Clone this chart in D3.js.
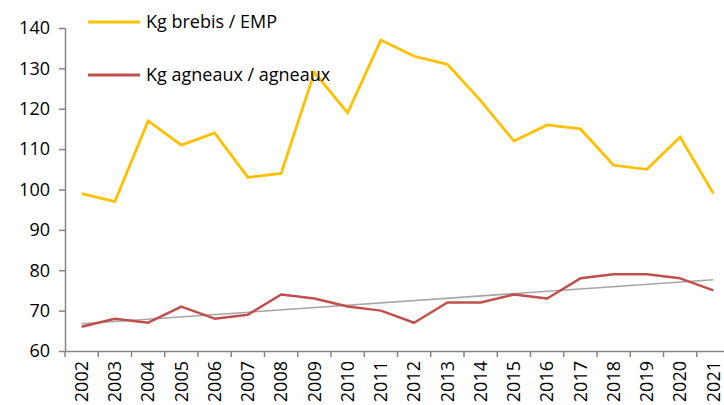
<!DOCTYPE html>
<html>
<head>
<meta charset="utf-8">
<script src="https://d3js.org/d3.v7.min.js"></script>
<style>
  body { margin: 0; background: #fff; }
  text { font-family: "Open Sans", "Liberation Sans", sans-serif; fill: #000; }
</style>
</head>
<body>
<svg id="chart" width="724" height="405"></svg>
<script>
var years = ["2002","2003","2004","2005","2006","2007","2008","2009","2010","2011",
             "2012","2013","2014","2015","2016","2017","2018","2019","2020","2021"];
var brebis = [99, 97, 117, 111, 114, 103, 104, 129, 119, 137,
              133, 131, 122, 112, 116, 115, 106, 105, 113, 99];
var agneaux = [66, 68, 67, 71, 68, 69, 74, 73, 71, 70,
               67, 72, 72, 74, 73, 78, 79, 79, 78, 75];
var yTicks = [60, 70, 80, 90, 100, 110, 120, 130, 140];
var seriesNames = ["Kg brebis / EMP", "Kg agneaux / agneaux"];

var svg = d3.select("#chart");
var plotL = 65, plotR = 730, plotT = 28, plotB = 351;
var axisColor = "#868686";

var x = d3.scaleBand().domain(years).range([plotL, plotR]);
var y = d3.scaleLinear().domain([60, 140]).range([plotB, plotT]);
function cx(d) { return x(d) + x.bandwidth() / 2; }

// linear trend on agneaux
var n = agneaux.length, mx = (n - 1) / 2, my = d3.mean(agneaux);
var sxy = 0, sxx = 0;
agneaux.forEach(function(v, i) { sxy += (i - mx) * (v - my); sxx += (i - mx) * (i - mx); });
var slope = sxy / sxx, icpt = my - slope * mx;
var trend = [{i: 0, v: icpt}, {i: n - 1, v: icpt + slope * (n - 1)}];

// axes
var yAxis = svg.append("g")
  .attr("transform", "translate(" + plotL + ",0)")
  .call(d3.axisLeft(y).tickValues(yTicks).tickSize(6).tickPadding(9));
var xAxis = svg.append("g")
  .attr("transform", "translate(0," + plotB + ")")
  .call(d3.axisBottom(x).tickSize(6).tickSizeOuter(0));

xAxis.selectAll(".tick line").attr("transform", "translate(" + (-x.bandwidth() / 2) + ",0)");
[yAxis, xAxis].forEach(function(a) {
  a.selectAll("path, line").attr("stroke", axisColor).attr("stroke-width", 1.5);
  a.selectAll("text").style("font-size", "18px").attr("fill", "#000");
});
xAxis.select(".domain").attr("d", "M" + plotL + ",0.5H724");
xAxis.selectAll(".tick text")
  .attr("transform", "rotate(-90)")
  .attr("text-anchor", "end")
  .attr("x", -10)
  .attr("y", 0)
  .attr("dy", "0.35em");
yAxis.select(".domain").attr("d", "M0.5," + plotT + "V" + plotB);

var line = d3.line().x(function(d, i) { return cx(years[i]); }).y(function(d) { return y(d); });

svg.append("path").datum(trend)
  .attr("fill", "none").attr("stroke", "#A6A6A6").attr("stroke-width", 1.5)
  .attr("d", d3.line().x(function(d) { return cx(years[d.i]); }).y(function(d) { return y(d.v); }));

svg.append("path").datum(agneaux)
  .attr("fill", "none").attr("stroke", "#C0504D").attr("stroke-width", 2.5)
  .attr("stroke-linejoin", "round").attr("d", line);

svg.append("path").datum(brebis)
  .attr("fill", "none").attr("stroke", "#FFC000").attr("stroke-width", 2.8)
  .attr("d", line);

// legend
var legColors = ["#FFC000", "#C0504D"];
var legY = [22, 75];
seriesNames.forEach(function(name, i) {
  svg.append("line")
    .attr("x1", 88).attr("x2", 140).attr("y1", legY[i]).attr("y2", legY[i])
    .attr("stroke", legColors[i]).attr("stroke-width", 2.8);
  svg.append("text")
    .attr("x", 146).attr("y", legY[i]).attr("dy", "0.35em")
    .style("font-size", "18px")
    .text(name);
});
</script>
</body>
</html>
